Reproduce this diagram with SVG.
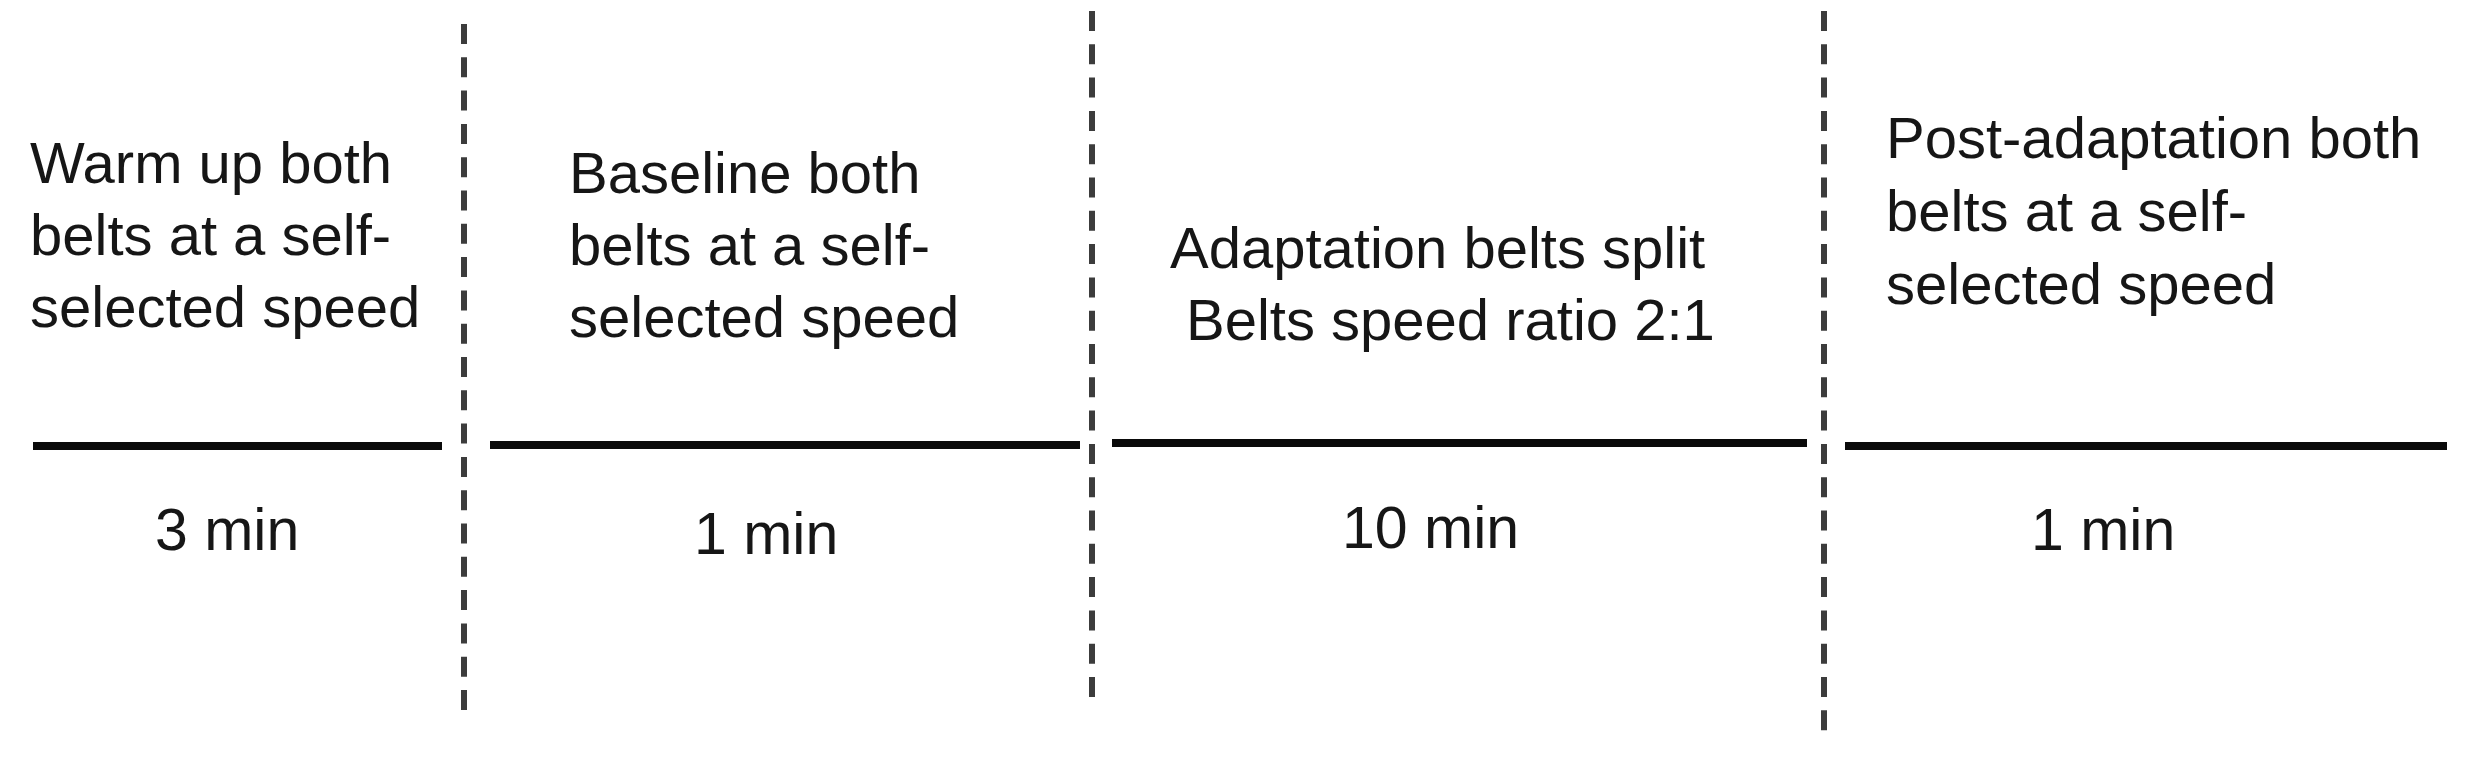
<svg xmlns="http://www.w3.org/2000/svg" width="2486" height="760" viewBox="0 0 2486 760">
  <defs>
    <filter id="shadow" x="-5%" y="-200%" width="110%" height="500%">
      <feGaussianBlur stdDeviation="3"/>
    </filter>
  </defs>
  <style>
    .txt { font-family: "Liberation Sans", Arial, sans-serif; font-size: 58px; fill: #161616; }
    .dur { font-family: "Liberation Sans", Arial, sans-serif; font-size: 59px; fill: #161616; }
    .divider { stroke: #3c3c3c; stroke-width: 6; stroke-dasharray: 20 13.3; fill: none; }
    .bar { stroke: #0a0a0a; stroke-width: 8; fill: none; }
    .barshadow { stroke: #b8b8b8; stroke-width: 9; fill: none; filter: url(#shadow); }
  </style>
  <rect x="0" y="0" width="2486" height="760" fill="#ffffff"/>

  <g id="connectors">
    <line class="divider" x1="464" y1="24" x2="464" y2="714"/>
    <line class="divider" x1="1092" y1="11" x2="1092" y2="700"/>
    <line class="divider" x1="1824" y1="11" x2="1824" y2="731"/>
  </g>

  <g id="phase-warmup">
    <line class="barshadow" x1="35" y1="456" x2="440" y2="456"/>
    <line class="bar" x1="33" y1="446" x2="442" y2="446"/>
    <text class="txt" x="30" y="183">Warm up both</text>
    <text class="txt" x="30" y="255">belts at a self-</text>
    <text class="txt" x="30" y="327">selected speed</text>
    <text class="dur" x="155" y="550">3 min</text>
  </g>

  <g id="phase-baseline">
    <line class="barshadow" x1="492" y1="455" x2="1078" y2="455"/>
    <line class="bar" x1="490" y1="445" x2="1080" y2="445"/>
    <text class="txt" x="569" y="193">Baseline both</text>
    <text class="txt" x="569" y="265">belts at a self-</text>
    <text class="txt" x="569" y="337">selected speed</text>
    <text class="dur" x="694" y="554">1 min</text>
  </g>

  <g id="phase-adaptation">
    <line class="barshadow" x1="1114" y1="453" x2="1805" y2="453"/>
    <line class="bar" x1="1112" y1="443" x2="1807" y2="443"/>
    <text class="txt" x="1170" y="268">Adaptation belts split</text>
    <text class="txt" x="1186" y="340">Belts speed ratio 2:1</text>
    <text class="dur" x="1342" y="548">10 min</text>
  </g>

  <g id="phase-postadaptation">
    <line class="barshadow" x1="1847" y1="456" x2="2445" y2="456"/>
    <line class="bar" x1="1845" y1="446" x2="2447" y2="446"/>
    <text class="txt" x="1886" y="158">Post-adaptation both</text>
    <text class="txt" x="1886" y="231">belts at a self-</text>
    <text class="txt" x="1886" y="304">selected speed</text>
    <text class="dur" x="2031" y="550">1 min</text>
  </g>
</svg>
